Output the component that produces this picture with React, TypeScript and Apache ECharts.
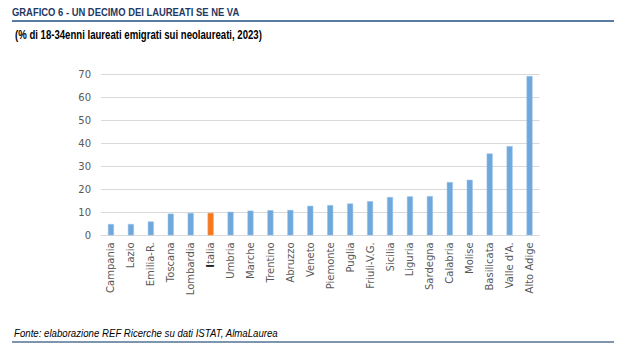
import React, { useEffect, useRef } from "react";
import * as echarts from "echarts";

const categories = [
  "Campania", "Lazio", "Emilia-R.", "Toscana", "Lombardia", "Italia", "Umbria",
  "Marche", "Trentino", "Abruzzo", "Veneto", "Piemonte", "Puglia", "Friuli-V.G.",
  "Sicilia", "Liguria", "Sardegna", "Calabria", "Molise", "Basilicata", "Valle d'A.",
  "Alto Adige",
];
const values = [
  4.9, 4.9, 6.0, 9.4, 9.7, 9.7, 10.2, 10.7, 10.9, 11.0, 12.8, 13.1, 13.8, 14.8,
  16.6, 16.9, 17.0, 23.1, 24.1, 35.5, 38.7, 69.1,
];
const highlight = "Italia";
const yTicks = { min: 0, max: 70, interval: 10 };

const titleText = "GRAFICO 6 - UN DECIMO DEI LAUREATI SE NE VA";
const subtitleText = "(% di 18-34enni laureati emigrati sui neolaureati, 2023)";
const sourceText = "Fonte: elaborazione REF Ricerche su dati ISTAT, AlmaLaurea";

export default function App() {
  const ref = useRef<HTMLDivElement>(null);
  useEffect(() => {
    if (!ref.current) return;
    const chart = echarts.init(ref.current, null, { renderer: "svg" });
    const blue = "#6FA8DC";
    const orange = "#F47A20";
    chart.setOption({
      animation: false,
      backgroundColor: "#ffffff",
      grid: { left: 101, top: 74, width: 438.5, height: 161.3 },
      xAxis: {
        type: "category",
        data: categories,
        axisLine: { show: true, lineStyle: { color: "#D9D9D9", width: 1 } },
        axisTick: { show: false },
        axisLabel: {
          rotate: 90,
          interval: 0,
          margin: 7,
          color: "#595959",
          fontFamily: "DejaVu Sans",
          fontSize: 10,
          formatter: (v: string) =>
            v === highlight ? "{b|" + v.slice(0, 1) + "}" + v.slice(1) : v,
          rich: {
            b: {
              color: "#222222",
              fontWeight: "bold",
              fontFamily: "DejaVu Sans",
              fontSize: 10,
            },
          },
        },
      },
      yAxis: {
        type: "value",
        min: yTicks.min,
        max: yTicks.max,
        interval: yTicks.interval,
        axisLine: { show: false },
        axisTick: { show: false },
        splitLine: { lineStyle: { color: "#D9D9D9", width: 1 } },
        axisLabel: {
          color: "#595959",
          fontFamily: "DejaVu Sans",
          fontSize: 10,
          margin: 10,
        },
      },
      series: [
        {
          type: "bar",
          barWidth: 6,
          data: categories.map((c, i) => ({
            value: values[i],
            itemStyle: {
              color: c === highlight ? orange : blue,
              borderColor: c === highlight ? "#F7935A" : "#9CC3E8",
              borderWidth: 0.5,
            },
          })),
        },
      ],
      graphic: [
        {
          type: "text",
          x: 12,
          y: 12,
          scaleX: 0.82,
          style: {
            text: titleText,
            x: 0,
            y: 0,
            fill: "#1F3864",
            verticalAlign: "middle",
            font: "bold 11.5px 'Liberation Sans', sans-serif",
          },
        },
        {
          type: "line",
          shape: { x1: 12, y1: 21, x2: 614, y2: 21 },
          style: { stroke: "#5A7BA0", lineWidth: 2 },
        },
        {
          type: "text",
          x: 15,
          y: 35,
          scaleX: 0.8,
          style: {
            text: subtitleText,
            x: 0,
            y: 0,
            fill: "#000000",
            verticalAlign: "middle",
            font: "bold 12px 'Liberation Sans', sans-serif",
          },
        },
        {
          type: "text",
          x: 14,
          y: 333,
          scaleX: 0.84,
          style: {
            text: sourceText,
            x: 0,
            y: 0,
            fill: "#000000",
            verticalAlign: "middle",
            font: "italic 11.5px 'Liberation Sans', sans-serif",
          },
        },
        {
          type: "line",
          shape: { x1: 12, y1: 342, x2: 614, y2: 342 },
          style: { stroke: "#7D95AD", lineWidth: 2 },
        },
      ],
    });
    return () => chart.dispose();
  }, []);
  return (
    <div
      ref={ref}
      style={{ position: "fixed", left: 0, top: 0, width: 619, height: 360 }}
    />
  );
}
